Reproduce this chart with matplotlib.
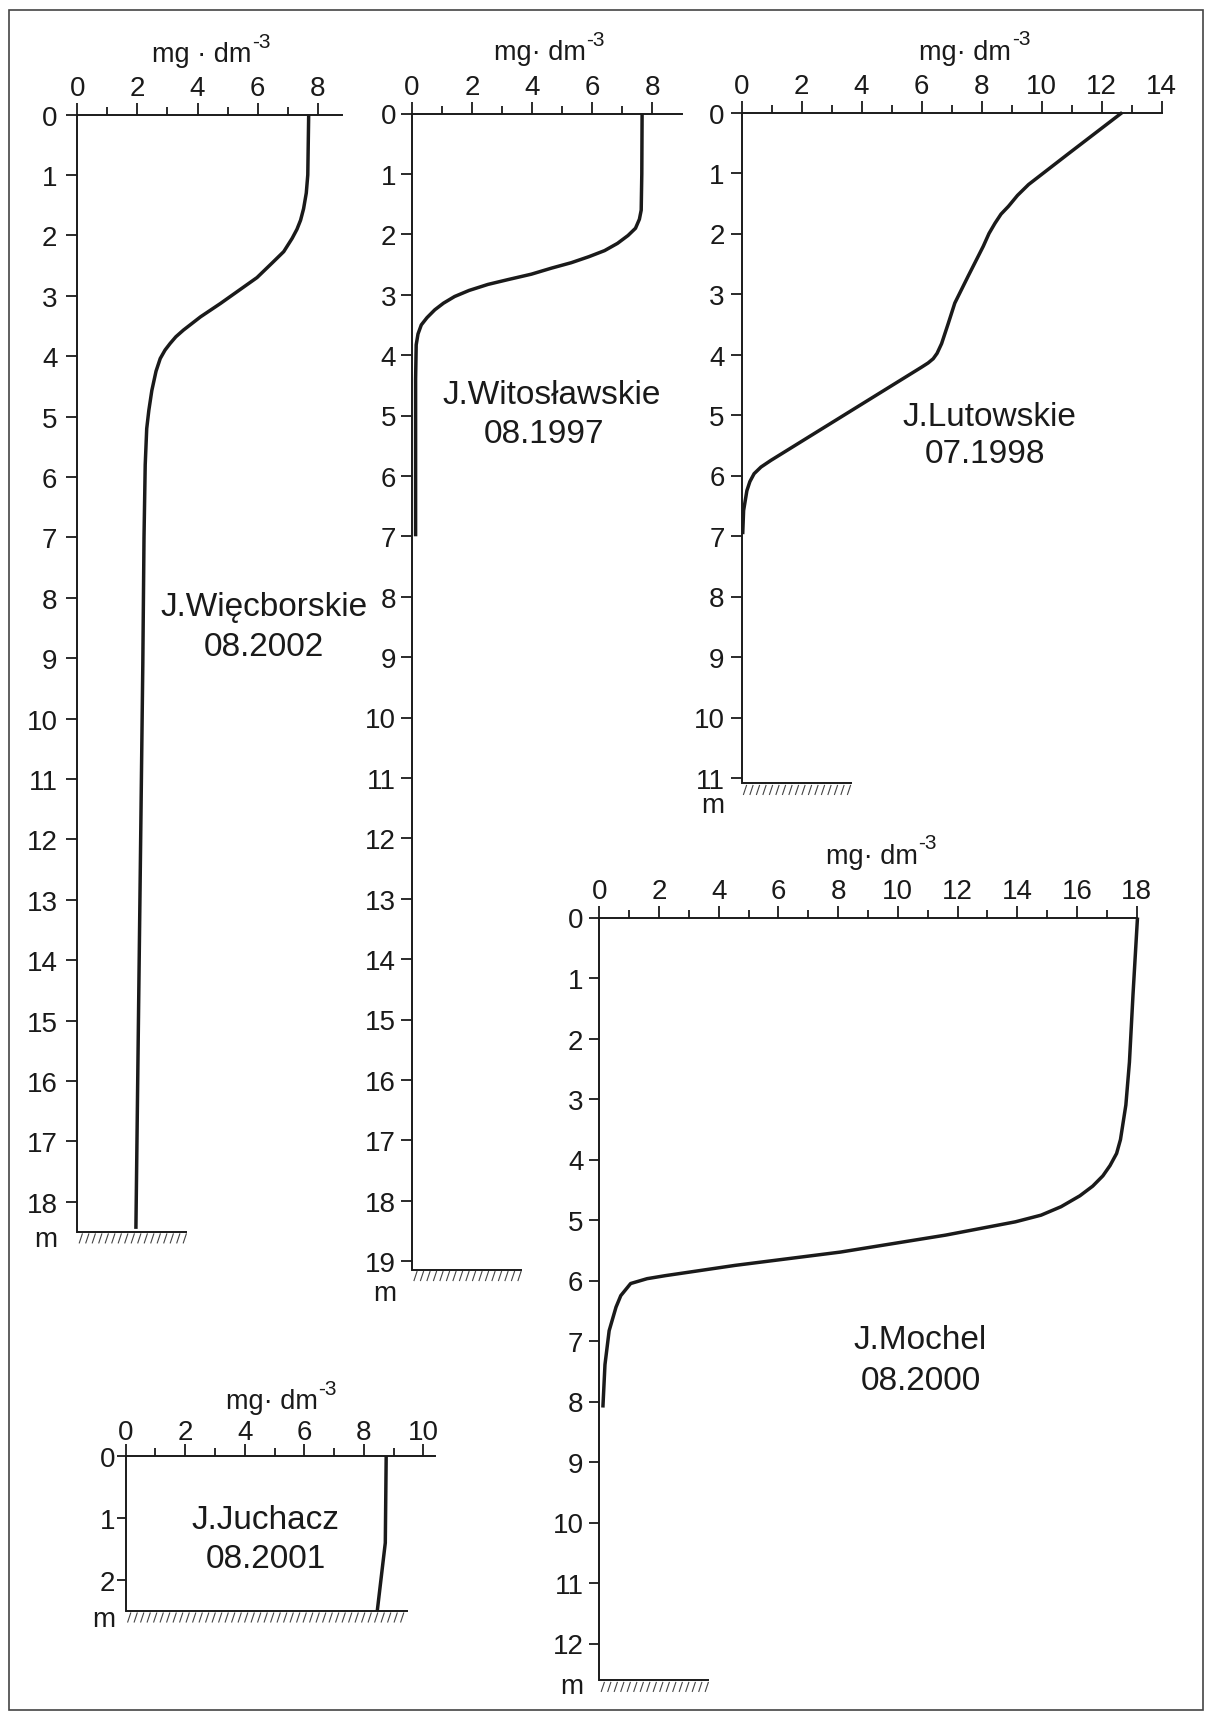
import numpy as np
import matplotlib
matplotlib.use("Agg")
import matplotlib.pyplot as plt
from matplotlib.lines import Line2D
from matplotlib.patches import Rectangle

plt.rcParams['font.family'] = ['Liberation Sans', 'DejaVu Sans']

# Dissolved oxygen profiles: depth [m] vs concentration [mg dm-3]
wiec_depth = [0, 1.0, 1.3, 1.56, 1.75, 1.9, 2.05, 2.27, 2.45, 2.7, 3.13, 3.35, 3.57, 3.68,
              3.79, 3.9, 4.04, 4.25, 4.57, 4.9, 5.2, 5.8, 7.0, 9.1, 18.45]
wiec_o2 = [7.7, 7.67, 7.62, 7.53, 7.43, 7.31, 7.15, 6.87, 6.5, 5.98, 4.76, 4.1, 3.53, 3.28,
           3.09, 2.92, 2.76, 2.62, 2.48, 2.38, 2.31, 2.26, 2.22, 2.18, 1.95]

wito_depth = [0, 1.0, 1.6, 1.75, 1.9, 2.02, 2.15, 2.27, 2.37, 2.47, 2.56, 2.66, 2.75, 2.83,
              2.93, 3.03, 3.14, 3.25, 3.38, 3.5, 3.65, 3.83, 4.4, 7.0]
wito_o2 = [7.67, 7.66, 7.64, 7.58, 7.45, 7.2, 6.85, 6.42, 5.9, 5.31, 4.65, 3.98, 3.2, 2.53,
           1.9, 1.42, 1.05, 0.76, 0.5, 0.31, 0.2, 0.14, 0.12, 0.12]

luto_depth = [0, 0.68, 1.19, 1.37, 1.55, 1.68, 1.83, 2.0, 2.21, 2.7, 3.15, 3.49, 3.82, 3.98,
              4.07, 4.14, 4.21, 5.75, 5.86, 5.97, 6.1, 6.25, 6.58, 6.97]
luto_o2 = [12.69, 10.9, 9.57, 9.2, 8.9, 8.65, 8.45, 8.25, 8.06, 7.56, 7.11, 6.89, 6.67, 6.52,
           6.39, 6.22, 6.0, 0.98, 0.65, 0.42, 0.28, 0.18, 0.07, 0.04]

moch_depth = [0, 1.27, 2.39, 3.1, 3.67, 3.9, 4.1, 4.27, 4.44, 4.6, 4.78, 4.92, 5.03, 5.25,
              5.53, 5.75, 5.92, 5.97, 6.05, 6.25, 6.44, 6.83, 7.39, 8.1]
moch_o2 = [18.03, 17.88, 17.76, 17.64, 17.46, 17.33, 17.11, 16.87, 16.53, 16.1, 15.47, 14.8,
           13.94, 11.6, 8.08, 4.55, 2.21, 1.6, 1.05, 0.72, 0.56, 0.33, 0.19, 0.12]

juch_depth = [0, 1.4, 2.5]
juch_o2 = [8.75, 8.72, 8.45]

lakes = ['J.Więcborskie', 'J.Witosławskie', 'J.Lutowskie', 'J.Mochel', 'J.Juchacz']
dates = ['08.2002', '08.1997', '07.1998', '08.2000', '08.2001']
profiles = [(wiec_depth, wiec_o2), (wito_depth, wito_o2), (luto_depth, luto_o2),
            (moch_depth, moch_o2), (juch_depth, juch_o2)]
x_ticks = [range(0, 9, 2), range(0, 9, 2), range(0, 15, 2), range(0, 19, 2), range(0, 11, 2)]
depth_ticks = [range(0, 19), range(0, 20), range(0, 12), range(0, 13), range(0, 3)]
bottom_depth = [18.5, 19.14, 11.09, 12.61, 2.5]
unit_text = ['mg · dm', 'mg· dm', 'mg· dm', 'mg· dm', 'mg· dm']

W, H = 1206, 1715
INK = '#1a1a1a'
TICK_FS = 20
UNIT_FS = 19.5
NAME_FS = 24

# panel placement in pixels: x0 = position of zero, top = surface line,
# ux = px per mg, um = px per metre
layout = [
    dict(x0=77.3, top=115.5, ux=30.05, um=60.4, xend=8.8, bed=3.64, unit_x=4.15, unit_dy=53,
         xpad=1.2, ypad=6.3, ylen=8.0, m_dy=14, name=(6.2, 8.15), date=(6.2, 8.8)),
    dict(x0=412.0, top=114.5, ux=30.0, um=60.4, xend=9.0, bed=3.67, unit_x=4.26, unit_dy=54,
         xpad=1.2, ypad=3.2, ylen=8.2, m_dy=30, name=(4.67, 4.65), date=(4.4, 5.3)),
    dict(x0=741.5, top=113.5, ux=30.0, um=60.5, xend=14.0, bed=3.67, unit_x=7.45, unit_dy=53.5,
         xpad=1.2, ypad=4.2, ylen=8.0, m_dy=29, name=(8.25, 5.02), date=(8.12, 5.64)),
    dict(x0=599.3, top=918.5, ux=29.85, um=60.5, xend=18.0, bed=3.68, unit_x=9.13, unit_dy=54.5,
         xpad=1.2, ypad=4.2, ylen=7.2, m_dy=13, name=(10.74, 6.98), date=(10.76, 7.66)),
    dict(x0=125.7, top=1457.0, ux=29.77, um=62.0, xend=10.4, bed=9.48, unit_x=4.91, unit_dy=47.7,
         xpad=-0.6, ypad=1.3, ylen=6.2, m_dy=15, name=(4.68, 1.02), date=(4.7, 1.66)),
]

fig = plt.figure(figsize=(W / 100, H / 100), dpi=100)
fig.patch.set_facecolor('white')


def draw_panel(k):
    lay = layout[k]
    depth, o2 = profiles[k]
    bd = bottom_depth[k]
    hgt = bd * lay['um']
    wid = lay['xend'] * lay['ux']
    ax = fig.add_axes([lay['x0'] / W, 1 - (lay['top'] + hgt) / H, wid / W, hgt / H])
    ax.set_xlim(0, lay['xend'])
    ax.set_ylim(bd, 0)
    ax.patch.set_alpha(0)

    for s in ('right', 'bottom'):
        ax.spines[s].set_visible(False)
    for s in ('top', 'left'):
        ax.spines[s].set_linewidth(1.4)
        ax.spines[s].set_color(INK)

    ax.xaxis.tick_top()
    majors = list(x_ticks[k])
    ax.set_xticks(majors)
    ax.set_xticks([t + 1 for t in majors[:-1]], minor=True)
    ax.set_yticks(list(depth_ticks[k]))
    ax.tick_params(axis='x', which='major', length=8.8, width=1.3, pad=lay['xpad'],
                   labelsize=TICK_FS, colors=INK, top=True, bottom=False)
    ax.tick_params(axis='x', which='minor', length=5.6, width=1.3, colors=INK,
                   top=True, bottom=False)
    ax.tick_params(axis='y', length=lay['ylen'], width=1.3, pad=lay['ypad'],
                   labelsize=TICK_FS, colors=INK)

    # oxygen curve
    ax.plot(o2, depth, color=INK, lw=2.5, clip_on=False,
            solid_joinstyle='round', solid_capstyle='butt')

    # lake bottom with hatching
    ax.plot([0, lay['bed']], [bd, bd], color=INK, lw=1.4, clip_on=False,
            solid_capstyle='butt')
    xa, ya = ax.transData.transform((0, bd))
    xb, _ = ax.transData.transform((lay['bed'], bd))
    for xs in np.arange(xa + 3.5, xb - 1, 6.5):
        fig.add_artist(Line2D([(xs + 1.5) / W, (xs - 1.5) / W],
                              [(ya - 2) / H, (ya - 11) / H],
                              color='#444444', lw=0.8))

    # unit label above the concentration axis
    pt = 0.72
    main = ax.annotate(unit_text[k], xy=(lay['unit_x'], 0), xycoords='data',
                       xytext=(0, lay['unit_dy'] * pt), textcoords='offset points',
                       ha='center', va='baseline', fontsize=UNIT_FS, color=INK,
                       annotation_clip=False)
    ax.annotate('-3', xy=(1, 1), xycoords=main, xytext=(0.5, -3.8),
                textcoords='offset points', ha='left', va='baseline',
                fontsize=15, color=INK)

    # depth unit under the last tick label
    ax.annotate('m', xy=(0, bd), xycoords='data',
                xytext=(-(lay['ylen'] + lay['ypad']), -lay['m_dy'] * pt),
                textcoords='offset points', ha='right', va='baseline',
                fontsize=TICK_FS, color=INK, annotation_clip=False)

    ax.text(*lay['name'], lakes[k], ha='center', va='center', fontsize=NAME_FS, color=INK)
    ax.text(*lay['date'], dates[k], ha='center', va='center', fontsize=NAME_FS, color=INK)


for k in range(len(lakes)):
    draw_panel(k)

fig.add_artist(Rectangle((9 / W, 1 - 1711 / H), (1203 - 9) / W, (1711 - 11) / H,
                         transform=fig.transFigure, fill=False, lw=1.2,
                         edgecolor='#444444'))

fig.savefig('out.png', dpi=100, facecolor='white')
